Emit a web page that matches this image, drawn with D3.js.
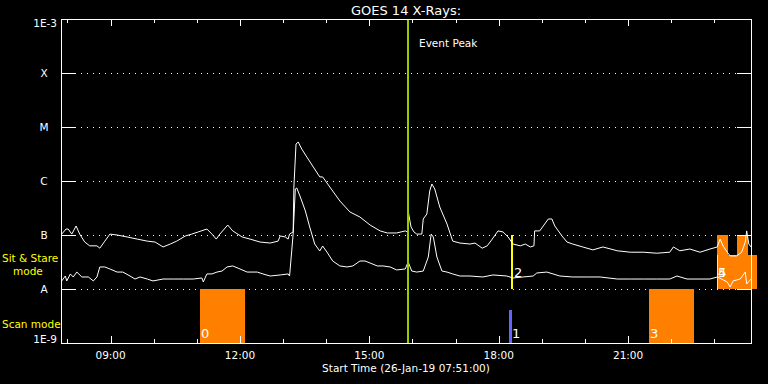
<!DOCTYPE html>
<html>
<head>
<meta charset="utf-8">
<script src="https://cdn.jsdelivr.net/npm/d3@7"></script>
<style>
  body { margin: 0; background: #000; }
  svg { display: block; }
  text { font-family: "DejaVu Sans", sans-serif; fill: #fff; }
</style>
</head>
<body>
<div id="chart"></div>
<script>
// goes x-ray plot, 26 jan 2019
const day = "2019-01-26";
const startTime = "07:51";
const endTime = "23:51";
const eventPeak = "15:54";

const levelFlux = [1e-9, 1e-8, 1e-7, 1e-6, 1e-5, 1e-4, 1e-3];
const levelLabels = ["1E-9", "A", "B", "C", "M", "X", "1E-3"];
const tickHours = ["08:00","09:00","10:00","11:00","12:00","13:00","14:00","15:00","16:00",
  "17:00","18:00","19:00","20:00","21:00","22:00","23:00"];
const labelHours = ["09:00", "12:00", "15:00", "18:00", "21:00"];

// 1-8 A channel
const longTimes = ["07:52","07:58","08:01","08:06","08:12","08:17","08:24","08:31","08:41","08:45",
  "08:52","08:59","09:09","09:23","09:37","09:51","10:02","10:13","10:23","10:32","10:44","10:53",
  "11:02","11:14","11:21","11:27","11:32","11:43","11:50","12:03","12:14","12:28","12:42","12:53",
  "12:56","13:03","13:07","13:09","13:14","13:15","13:18","13:21","13:26","13:33","13:42","13:51",
  "13:55","14:05","14:19","14:33","14:47","15:01","15:15","15:25","15:38","15:50","15:53","15:54",
  "15:58","16:02","16:06","16:13","16:15","16:20","16:24","16:27","16:31","16:38","16:48","16:56",
  "17:06","17:20","17:27","17:37","17:44","17:51","17:59","18:06","18:13","18:20","18:30","18:37",
  "18:44","18:49","18:50","18:57","19:02","19:09","19:14","19:18","19:28","19:35","19:43","19:57",
  "20:11","20:25","20:45","21:03","21:21","21:40","21:58","22:03","22:12","22:26","22:40","22:54",
  "23:04","23:08","23:12","23:18","23:22","23:31","23:38","23:43","23:45","23:48","23:51"];
const longFlux = [1.04e-7,1.29e-7,1.29e-7,1.04e-7,1.47e-7,1.04e-7,7.4e-8,6.3e-8,6.3e-8,5.7e-8,
  7.7e-8,1.04e-7,1.0e-7,9.2e-8,8.4e-8,7.7e-8,7.4e-8,6.0e-8,6.8e-8,7.7e-8,9.6e-8,1.04e-7,
  1.14e-7,1.29e-7,1.04e-7,8.4e-8,1.04e-7,1.53e-7,1.19e-7,9.2e-8,8.4e-8,7.4e-8,7.1e-8,7.7e-8,
  9.6e-8,9.2e-8,8.4e-8,1.04e-7,1.14e-7,7.74e-7,4.84e-6,5.27e-6,3.91e-6,2.78e-6,1.82e-6,1.19e-6,
  1.19e-6,7.74e-7,4.26e-7,2.67e-7,2.15e-7,1.53e-7,1.19e-7,1.09e-7,1.09e-7,1.19e-7,1.14e-7,2.78e-7,
  1.41e-7,1.14e-7,1.04e-7,1.04e-7,1.98e-7,2.45e-7,6.53e-7,8.8e-7,7.11e-7,3.30e-7,1.60e-7,7.7e-8,
  7.1e-8,6.8e-8,7.1e-8,5.7e-8,6.3e-8,8.4e-8,1.19e-7,1.14e-7,9.2e-8,6.8e-8,6.3e-8,6.8e-8,
  6.0e-8,6.3e-8,1.19e-7,1.19e-7,1.47e-7,1.98e-7,1.98e-7,1.47e-7,9.6e-8,7.4e-8,6.8e-8,6.0e-8,
  5.3e-8,6.0e-8,5.1e-8,4.8e-8,4.8e-8,4.6e-8,4.8e-8,6.0e-8,5.1e-8,5.5e-8,4.8e-8,5.5e-8,
  6.0e-8,8.4e-8,6.3e-8,4.8e-8,4.1e-8,4.1e-8,4.8e-8,7.4e-8,1.19e-7,6.8e-8,6.0e-8];

// 0.5-4 A channel
const shortTimes = ["07:52","07:57","07:59","08:04","08:08","08:13","08:20","08:29","08:36","08:41",
  "08:45","08:52","08:59","09:09","09:17","09:27","09:34","09:41","09:51","09:59","10:13","10:27",
  "10:41","10:55","11:07","11:09","11:14","11:21","11:28","11:35","11:42","11:50","12:00","12:10",
  "12:24","12:32","12:42","12:56","13:07","13:09","13:14","13:17","13:19","13:24","13:31","13:37",
  "13:44","13:51","13:55","14:01","14:09","14:19","14:29","14:37","14:47","14:54","15:01","15:11",
  "15:19","15:29","15:38","15:50","15:54","15:59","16:06","16:15","16:22","16:26","16:29","16:34",
  "16:41","16:48","16:56","17:06","17:20","17:38","17:52","18:11","18:20","18:34","18:48","18:53",
  "19:07","19:25","19:43","20:03","20:21","20:45","21:03","21:21","21:40","21:58","22:08","22:22",
  "22:40","22:54","23:04","23:10","23:18","23:22","23:26","23:36","23:43","23:45","23:51"];
const shortFlux = [1.41e-8,1.74e-8,1.41e-8,1.90e-8,1.67e-8,2.06e-8,1.67e-8,1.67e-8,1.41e-8,1.67e-8,
  2.56e-8,2.56e-8,2.35e-8,2.06e-8,2.06e-8,1.74e-8,1.53e-8,1.67e-8,1.53e-8,1.41e-8,1.53e-8,1.53e-8,
  1.53e-8,1.53e-8,1.60e-8,1.35e-8,1.90e-8,1.90e-8,2.06e-8,2.15e-8,2.56e-8,2.67e-8,2.35e-8,2.06e-8,
  2.06e-8,1.90e-8,1.74e-8,1.82e-8,1.90e-8,1.74e-8,1.04e-7,7.11e-7,7.42e-7,5.05e-7,2.78e-7,1.41e-7,
  6.81e-8,5.05e-8,6.26e-8,4.84e-8,3.30e-8,2.67e-8,2.56e-8,2.67e-8,3.30e-8,3.30e-8,3.03e-8,2.67e-8,
  2.67e-8,2.56e-8,2.25e-8,2.35e-8,3.16e-8,2.15e-8,2.06e-8,2.15e-8,3.91e-8,1.04e-7,9.18e-8,3.91e-8,
  2.15e-8,2.06e-8,1.90e-8,1.74e-8,1.74e-8,1.67e-8,1.82e-8,1.74e-8,1.60e-8,1.67e-8,1.74e-8,1.98e-8,
  2.06e-8,1.74e-8,1.67e-8,1.67e-8,1.67e-8,1.53e-8,1.53e-8,1.53e-8,1.53e-8,1.53e-8,1.74e-8,1.53e-8,
  1.53e-8,1.53e-8,1.67e-8,1.53e-8,1.35e-8,1.09e-8,1.41e-8,1.53e-8,2.06e-8,1.24e-8,1.53e-8];

// observing blocks
const obsLabels = ["0", "1", "2", "3", "4", "5", ""];
const obsMode = ["scan", "scan", "sit", "scan", "sit", "sit", "sit"];
const obsStart = ["11:04", "18:14", "18:17", "21:29", "23:04", "23:04", "23:31"];
const obsEnd = ["12:07", "18:18", "18:19", "22:32", "23:59", "23:19", "23:47"];
const obsLow = [1e-9, 1e-9, 1e-8, 1e-9, 1e-8, 1e-8, 1e-8];
const obsHigh = [1e-8, 4.1e-9, 1e-7, 1e-8, 4.3e-8, 1e-7, 1e-7];

const W = 768, H = 384;
const margin = {left: 61, right: 17, top: 19, bottom: 41};

const parse = d3.timeParse("%Y-%m-%d %H:%M");
const t = s => parse(day + " " + s);

const x = d3.scaleTime()
  .domain([t(startTime), t(endTime)])
  .range([margin.left, W - margin.right]);
const y = d3.scaleLog()
  .domain([1e-9, 1e-3])
  .range([H - margin.bottom, margin.top]);

const svg = d3.select("#chart").append("svg")
  .attr("width", W)
  .attr("height", H)
  .style("background", "#000");

const x0 = x.range()[0], x1 = x.range()[1];
const y0 = y.range()[0], y1 = y.range()[1];

// dotted level lines
svg.append("g").attr("class", "grid")
  .selectAll("line")
  .data(levelFlux.slice(1, -1))
  .join("line")
  .attr("x1", x0 + 14).attr("x2", x1 - 14)
  .attr("y1", d => Math.round(y(d)) + 0.5)
  .attr("y2", d => Math.round(y(d)) + 0.5)
  .attr("stroke", "#fff")
  .attr("stroke-dasharray", "1,5");

// observations
const obs = obsLabels.map((label, i) => ({
  label, mode: obsMode[i], start: t(obsStart[i]), end: t(obsEnd[i]),
  low: obsLow[i], high: obsHigh[i]
}));
const shortObs = d => (d.end - d.start) <= 5 * 60000;
const obsColor = d => shortObs(d) ? (d.mode === "scan" ? "#6464ff" : "#ffff00") : "#ff8000";

svg.append("g").attr("class", "obs")
  .selectAll("rect")
  .data(obs)
  .join("rect")
  .attr("x", d => Math.round(x(d.start)))
  .attr("width", d => Math.max(2, Math.round(x(d.end)) - Math.round(x(d.start))))
  .attr("y", d => Math.round(y(d.high)))
  .attr("height", d => Math.round(y(d.low)) - Math.round(y(d.high)))
  .attr("fill", obsColor);

// yellow edge on the sit & stare block at the end
const edge = obs[4];
svg.append("line")
  .attr("x1", Math.round(x(edge.start)) + 0.5).attr("x2", Math.round(x(edge.start)) + 0.5)
  .attr("y1", y(edge.high)).attr("y2", y(edge.low))
  .attr("stroke", "#ffff00");

// curves
const line = d3.line()
  .x(d => x(d[0]))
  .y(d => y(d[1]));

[[longTimes, longFlux], [shortTimes, shortFlux]].forEach(([ts, fs]) => {
  svg.append("path")
    .datum(ts.map((s, i) => [t(s), fs[i]]))
    .attr("d", line)
    .attr("fill", "none")
    .attr("stroke", "#fff")
    .attr("stroke-width", 1);
});

// obs labels
svg.append("g").attr("class", "obs-labels")
  .selectAll("text")
  .data(obs.filter(d => d.label !== ""))
  .join("text")
  .attr("x", d => Math.round(x(d.start)) + (shortObs(d) ? 3 : 1))
  .attr("y", d => y(d.low) - (d.mode === "scan" ? 5 : 12))
  .attr("font-size", 13)
  .text(d => d.label);

// event peak
const ex = Math.round(x(t(eventPeak)));
svg.append("line")
  .attr("x1", ex).attr("x2", ex)
  .attr("y1", y1).attr("y2", y0)
  .attr("stroke", "#99cc00")
  .attr("stroke-width", 2);
svg.append("text")
  .attr("x", ex + 11).attr("y", 47)
  .attr("font-size", 10.5)
  .text("Event Peak");

// frame
svg.append("rect")
  .attr("x", x0 + 0.5).attr("y", y1 + 0.5)
  .attr("width", x1 - x0).attr("height", y0 - y1)
  .attr("fill", "none")
  .attr("stroke", "#fff");

// time ticks, top and bottom
const ticks = tickHours.map(t);
const isMajor = d => labelHours.includes(d3.timeFormat("%H:%M")(d));
const tg = svg.append("g").attr("stroke", "#fff");
ticks.forEach(d => {
  const tx = Math.round(x(d)) + 0.5;
  const len = isMajor(d) ? 7 : 4;
  tg.append("line").attr("x1", tx).attr("x2", tx).attr("y1", y0).attr("y2", y0 - len);
  tg.append("line").attr("x1", tx).attr("x2", tx).attr("y1", y1).attr("y2", y1 + len);
});
levelFlux.slice(1, -1).forEach(d => {
  const ty = Math.round(y(d)) + 0.5;
  tg.append("line").attr("x1", x0).attr("x2", x0 + 14).attr("y1", ty).attr("y2", ty);
  tg.append("line").attr("x1", x1 - 14).attr("x2", x1).attr("y1", ty).attr("y2", ty);
});

svg.append("g").attr("class", "x-labels")
  .selectAll("text")
  .data(labelHours)
  .join("text")
  .attr("x", d => x(t(d)))
  .attr("y", 359)
  .attr("text-anchor", "middle")
  .attr("font-size", 10.5)
  .text(d => d);

svg.append("text")
  .attr("x", (x0 + x1) / 2).attr("y", 372)
  .attr("text-anchor", "middle")
  .attr("font-size", 10.5)
  .text("Start Time (" + d3.timeFormat("%d-%b-%y %H:%M:%S")(t(startTime)) + ")");

// y labels
svg.append("g").attr("class", "y-labels")
  .selectAll("text")
  .data(levelFlux)
  .join("text")
  .attr("x", (d, i) => (i === 0 || i === levelFlux.length - 1) ? 57 : 44)
  .attr("y", (d, i) => i === 0 ? y(d) : i === levelFlux.length - 1 ? y(d) + 8 : y(d) + 4)
  .attr("text-anchor", (d, i) => (i === 0 || i === levelFlux.length - 1) ? "end" : "middle")
  .attr("font-size", 10.5)
  .text((d, i) => levelLabels[i]);

// mode labels
const modeText = svg.append("g").attr("font-size", 10.5);
modeText.append("text").attr("x", 2).attr("y", 262).style("fill", "#ffff00").text("Sit & Stare");
modeText.append("text").attr("x", 13).attr("y", 275).style("fill", "#ffff00").text("mode");
modeText.append("text").attr("x", 2).attr("y", 328).style("fill", "#ffff00").text("Scan mode");

// title
svg.append("text")
  .attr("x", (x0 + x1) / 2).attr("y", 15)
  .attr("text-anchor", "middle")
  .attr("font-size", 13)
  .text("GOES 14 X-Rays:");
</script>
</body>
</html>
